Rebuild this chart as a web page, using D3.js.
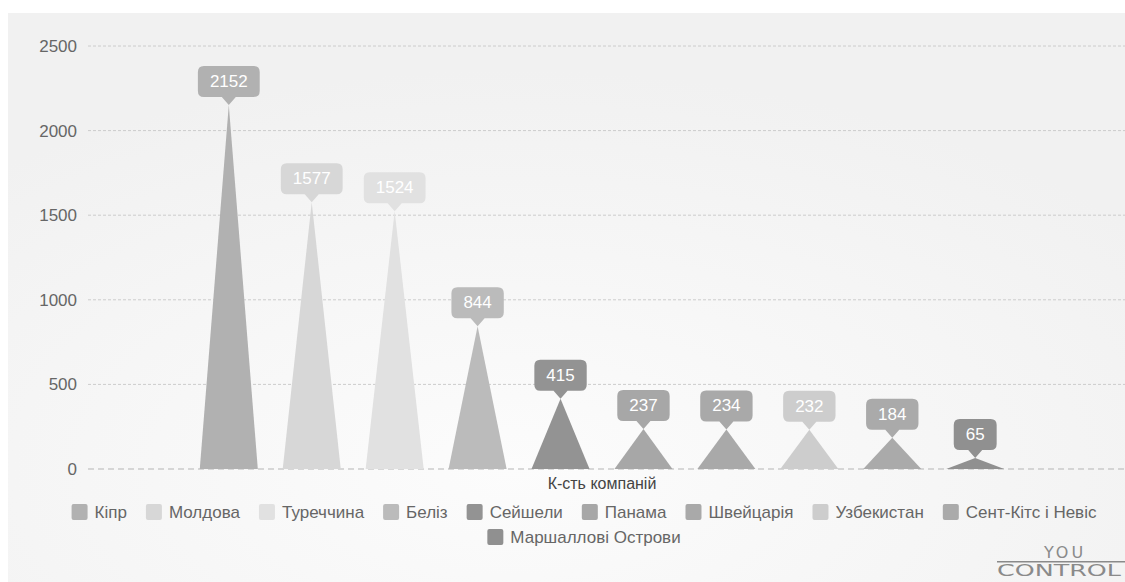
<!DOCTYPE html>
<html>
<head>
<meta charset="utf-8">
<script src="https://cdn.jsdelivr.net/npm/d3@7"></script>
<style>
  body { margin: 0; background: #fff; }
  svg { display: block; font-family: "Liberation Sans", Arial, sans-serif; }
</style>
</head>
<body>
<div id="chart"></div>
<script>
const category = ["К-сть компаній"];
const countries = ["Кіпр", "Молдова", "Туреччина", "Беліз", "Сейшели", "Панама",
                   "Швейцарія", "Узбекистан", "Сент-Кітс і Невіс", "Маршаллові Острови"];
const values = [2152, 1577, 1524, 844, 415, 237, 234, 232, 184, 65];
const colors = ["#b1b1b1", "#d7d7d7", "#e1e1e1", "#bbbbbb", "#939393",
                "#a7a7a7", "#a9a9a9", "#cdcdcd", "#aaaaaa", "#909090"];
const yTicks = [0, 500, 1000, 1500, 2000, 2500];

const width = 1125, height = 582;
const margin = { top: 46, left: 82, right: 3, bottom: 113 };

const svg = d3.select("#chart").append("svg")
    .attr("width", width)
    .attr("height", height);

// background
const defs = svg.append("defs");
const grad = defs.append("radialGradient").attr("id", "bg")
    .attr("cx", "45%").attr("cy", "80%").attr("r", "70%");
grad.append("stop").attr("offset", "0%").attr("stop-color", "#fcfcfc");
grad.append("stop").attr("offset", "100%").attr("stop-color", "#f1f1f1");
svg.append("rect").attr("x", 8).attr("y", 13)
    .attr("width", width - 8).attr("height", height - 13)
    .attr("fill", "url(#bg)");

const y = d3.scaleLinear()
    .domain([0, 2500])
    .range([height - margin.bottom, margin.top]);

const x0 = d3.scaleBand()
    .domain(category)
    .range([margin.left, 1122])
    .paddingOuter(0.127);

const x1 = d3.scaleBand()
    .domain(countries)
    .range([0, x0.bandwidth()])
    .paddingInner(0.3)
    .paddingOuter(0.15);

// grid + y labels
const yAxis = svg.append("g")
    .attr("transform", `translate(${margin.left},0)`)
    .call(d3.axisLeft(y).tickValues(yTicks).tickSize(0).tickPadding(5)
        .tickFormat(d3.format("d")));
yAxis.select(".domain").remove();
yAxis.selectAll("text").attr("fill", "#666").style("font-size", "17px")
    .style("font-family", "'Liberation Sans', Arial, sans-serif");

svg.append("g").selectAll("line").data(yTicks).join("line")
    .attr("x1", margin.left + 6).attr("x2", width)
    .attr("y1", d => y(d)).attr("y2", d => y(d))
    .attr("stroke", d => d === 0 ? "#b5b5b5" : "#cccccc")
    .attr("stroke-width", 1)
    .attr("stroke-dasharray", d => d === 0 ? "6,4" : "3,2");

// cone bars
const g = svg.append("g").attr("transform", `translate(${x0(category[0])},0)`);
const data = countries.map((c, i) => ({ name: c, value: values[i], color: colors[i] }));

g.selectAll("path.bar").data(data).join("path")
    .attr("class", "bar")
    .attr("fill", d => d.color)
    .attr("d", d => {
        const l = x1(d.name), r = l + x1.bandwidth(), m = l + x1.bandwidth() / 2;
        return `M${l},${y(0)}L${m},${y(d.value)}L${r},${y(0)}Z`;
    });

// value callouts
const lab = g.selectAll("g.lab").data(data).join("g")
    .attr("class", "lab")
    .attr("transform", d => `translate(${x1(d.name) + x1.bandwidth() / 2},${y(d.value)})`);

lab.append("text")
    .attr("text-anchor", "middle")
    .attr("fill", "#fff")
    .style("font-size", "17px")
    .attr("y", -18)
    .text(d => d.value)
    .each(function(d) { d.tw = this.getComputedTextLength(); });

lab.insert("path", "text")
    .attr("fill", d => d.color)
    .attr("d", d => {
        const w = d.tw + 24, h = 31, p = 8, r = 6, hw = w / 2;
        const top = -p - h, bot = -p;
        return `M0,0L${-7},${bot}L${-hw + r},${bot}Q${-hw},${bot} ${-hw},${bot - r}` +
            `L${-hw},${top + r}Q${-hw},${top} ${-hw + r},${top}` +
            `L${hw - r},${top}Q${hw},${top} ${hw},${top + r}` +
            `L${hw},${bot - r}Q${hw},${bot} ${hw - r},${bot}L7,${bot}Z`;
    });

// category label
svg.append("text")
    .attr("x", x0(category[0]) + x0.bandwidth() / 2)
    .attr("y", y(0) + 20)
    .attr("text-anchor", "middle")
    .attr("fill", "#444")
    .style("font-size", "16px")
    .text(category[0]);

// legend
const legend = svg.append("g");
const items = legend.selectAll("g").data(data).join("g");
items.append("rect").attr("width", 16).attr("height", 16).attr("rx", 2)
    .attr("fill", d => d.color);
items.append("text").attr("x", 23).attr("y", 14)
    .attr("fill", "#666").style("font-size", "17px")
    .text(d => d.name)
    .each(function(d) { d.lw = 23 + this.getComputedTextLength(); });

const maxRow = 1045, gap = 19, cx = 584;
const rows = [[]];
let cur = 0;
data.forEach(d => {
    if (cur + d.lw > maxRow && rows[rows.length - 1].length) { rows.push([]); cur = 0; }
    rows[rows.length - 1].push(d);
    cur += d.lw + gap;
});
rows.forEach((row, ri) => {
    const tot = d3.sum(row, d => d.lw) + gap * (row.length - 1);
    let xx = cx - tot / 2;
    row.forEach(d => { d.lx = xx; d.ly = 504 + ri * 25; xx += d.lw + gap; });
});
items.attr("transform", d => `translate(${d.lx},${d.ly})`);

// logo
const logo = svg.append("g").attr("fill", "#8a8a8a")
    .style("font-family", "'DejaVu Sans', sans-serif");
logo.append("text").attr("x", 1065).attr("y", 558).attr("text-anchor", "middle")
    .style("font-size", "16px").style("letter-spacing", "3px").text("YOU");
logo.append("rect").attr("x", 997).attr("y", 561).attr("width", 128).attr("height", 1.5);
logo.append("text").attr("x", 997).attr("y", 576)
    .attr("textLength", 124).attr("lengthAdjust", "spacingAndGlyphs")
    .style("font-size", "15px").text("CONTROL");
</script>
</body>
</html>
